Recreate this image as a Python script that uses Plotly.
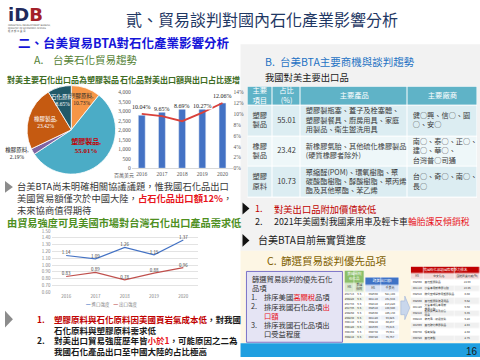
import math
import plotly.graph_objects as go

W, H = 480, 360
CJK = "Noto Sans CJK TC"
SERIF = "Liberation Serif, Noto Sans CJK TC"


def px(x):
    return x / W


def py(y):
    return 1 - y / H


# ---------------- data ----------------
pie_labels = ["塑膠原料", "塑膠製品", "橡膠原料", "橡膠製品", "石化原料"]
pie_values = [10.73, 55.01, 2.19, 23.42, 8.65]

years = [2016, 2017, 2018, 2019, 2020]
export_value = [2800, 3130, 3170, 3260, 3440]          # 百萬美元
export_share = [10.04, 9.65, 8.69, 10.27, 12.06]       # %

intensity_years = ["2016", "2017", "2018", "2019", "2020"]
import_intensity = [1.14, 1.09, 1.26, 1.15, 1.37]
export_intensity = [0.83, 0.89, 0.78, 0.88, 0.96]
intensity_names = ["進口強度", "出口強度"]

tb_header = ["主要<br>項目", "占比<br>(%)", "主要產品", "主要廠商"]
tb_items = ["塑膠<br>製品", "橡膠<br>製品", "塑膠<br>原料"]
tb_shares = ["55.01", "23.42", "10.73"]
tb_products = [
    "塑膠製瓶塞、蓋子及栓塞體、<br>塑膠製餐具、廚房用具、家庭<br>用製品、衛生盥洗用具",
    "新橡膠氣胎、其他硫化橡膠製品<br>(硬質橡膠者除外)",
    "聚縮醛(POM)、環氧樹脂、聚<br>碳酸酯樹脂、醇酸樹脂、聚丙烯<br>酯及其他聚酯、苯乙烯",
]
tb_firms = [
    "健○興、信○、園<br>○、安○",
    "南○、泰○、正○、<br>建○、華○、<br>台灣普○司通",
    "台○、奇○、南○、<br>長○",
]

c1_header = ["美國關稅<br>石化品", "HS", "美國<br>關稅"]
c1_hs = ["291713", "290220", "291733", "291736", "290250",
         "290230", "390110", "390120", "390190", "390210"]
c1_tariff = ["6.5", "6.5", "6.5", "6.5", "6.5", "6.5", "6.5", "6.5", "6.5", "6.5"]

c2_header = ["對美出口額", "HS", "千美元"]
c2_hs = ["392690", "401110", "392410", "392610", "392590",
         "401120", "390210", "401699", "390730", "390720"]
c2_value = ["621,104", "161,544", "213,228", "138,508", "105,138",
            "93,025", "80,297", "76,815", "76,681", "75,757"]

c3_header = ["我國石化品項國際競爭力排名", "HS", "中文貨名", "國際同業比較(%)"]
c3_hs = ["392690", "401110", "392610", "392590", "401120",
         "392410", "390210", "401699", "390730", "390720"]
c3_name = ["其他塑膠製品", "小客車用新橡膠氣胎", "辦公室或學校用塑膠製品",
           "其他塑膠製建築用品", "大客車或貨車用新<br>橡膠氣胎", "塑膠製餐具及廚房<br>用具",
           "聚丙烯，初級狀態", "其他硫化橡膠製品", "環氧樹脂", "其他聚醚"]
c3_score = ["14.59", "13.45", "8.80", "6.52", "5.60", "5.35", "5.20", "2.83", "2.80", "2.75"]

# ---------------- figure ----------------
fig = go.Figure()
shapes = []
annots = []
layout = {}


def rect(x0, y0, x1, y1, fill, line=None, lw=0, layer="below"):
    shapes.append(dict(type="rect", xref="paper", yref="paper",
                       x0=px(x0), x1=px(x1), y0=py(y1), y1=py(y0),
                       fillcolor=fill, line=dict(color=line or fill, width=lw), layer=layer))


def tri(x0, y0, x1, y1, fill):
    path = f"M {px(x0)},{py(y0)} L {px(x1)},{py((y0 + y1) / 2)} L {px(x0)},{py(y1)} Z"
    shapes.append(dict(type="path", xref="paper", yref="paper", path=path,
                       fillcolor=fill, line=dict(width=0), layer="above"))


def txt(x, y, s, size, color="#262626", bold=False, anchor="left", family=CJK):
    if bold:
        s = f"<b>{s}</b>"
    annots.append(dict(x=px(x), y=py(y), xref="paper", yref="paper", text=s,
                       showarrow=False, xanchor=anchor, yanchor="middle",
                       font=dict(size=size, color=color, family=family),
                       align="center" if anchor == "center" else "left",
                       borderpad=0, borderwidth=0))


RED = "#e8141c"


def red(s):
    return f"<span style='color:{RED}'>{s}</span>"


# background panels
rect(238, 42, 480, 252, "#f2f2f2")
rect(238, 252, 480, 346, "#fdf6e4")
rect(238, 346, 480, 360, "#1f9fe0")

# ---------------- pie ----------------
pie_box = (22, 84, 112, 174)          # px box of the pie domain
pie_colors = ["#f79646", "#4bacc6", "#8064a2", "#c55a11", "#215968"]
tmpl = "%{label},<br>%{value:.2f}%"
fig.add_trace(go.Pie(
    labels=pie_labels, values=pie_values, sort=False, direction="clockwise", rotation=0,
    domain=dict(x=[px(pie_box[0]), px(pie_box[2])], y=[py(pie_box[3]), py(pie_box[1])]),
    marker=dict(colors=pie_colors, line=dict(color="white", width=0.8)),
    texttemplate=["", "<b>" + tmpl + "</b>", tmpl, tmpl, ""],
    textposition=["inside", "inside", "outside", "inside", "inside"],
    insidetextorientation="horizontal",
    textfont=dict(family=SERIF, size=[5.5, 7, 5.5, 5.5, 5.5],
                  color=["#262626", "#c00000", "#262626", "white", "white"]),
    showlegend=False, hoverinfo="skip"))

# labels of the two narrow slices, placed at each slice's mid-angle
cx, cy = (pie_box[0] + pie_box[2]) / 2, (pie_box[1] + pie_box[3]) / 2
rad = (pie_box[2] - pie_box[0]) / 2
narrow_label = {0: (0.73, "#262626"), 4: (0.69, "white")}
total = sum(pie_values)
start = 0.0
for i, (lab, v) in enumerate(zip(pie_labels, pie_values)):
    ang = (start + v / 2) / total * 2 * math.pi
    start += v
    if i in narrow_label:
        f, col = narrow_label[i]
        txt(cx + f * rad * math.sin(ang), cy - f * rad * math.cos(ang),
            f"{lab},<br>{v:.2f}%", 5.5, col, anchor="center", family=SERIF)

# ---------------- bar + line ----------------
fig.add_trace(go.Bar(x=years, y=export_value, marker_color="#4472c4", width=0.34,
                     xaxis="x", yaxis="y", hoverinfo="skip", showlegend=False))
fig.add_trace(go.Scatter(x=years, y=export_share, mode="lines",
                         line=dict(color="#d9413b", width=1.8),
                         xaxis="x", yaxis="y2", hoverinfo="skip", showlegend=False))
share_shift = [7, 7, 15, 7, 7]
for yr, v, s in zip(years, export_share, share_shift):
    annots.append(dict(x=yr, y=v, xref="x", yref="y2", text=f"{v:.2f}%", showarrow=False,
                       yshift=s, font=dict(size=6, family=SERIF, color="#1a1a1a"),
                       bgcolor="white", borderpad=0))

tick_font = dict(size=5.5, color="#595959", family=SERIF)
layout["xaxis"] = dict(domain=[px(128), px(230)], anchor="y", type="linear",
                       range=[years[0] - 0.5, years[-1] + 0.5], autorange=False,
                       tickmode="array", tickvals=years, ticktext=[str(y) for y in years],
                       tickfont=tick_font, showline=True, linecolor="#d9d9d9", linewidth=0.8,
                       showgrid=False, zeroline=False, ticks="", fixedrange=True)
layout["yaxis"] = dict(domain=[py(168), py(91)], anchor="x", range=[0, 4000], dtick=500,
                       autorange=False,
                       tickformat=",", tickfont=tick_font, showgrid=False, zeroline=False,
                       fixedrange=True)
layout["yaxis2"] = dict(overlaying="y", side="right", anchor="x", range=[0, 14], dtick=2,
                        autorange=False,
                        ticksuffix="%", tickfont=tick_font, showgrid=False, zeroline=False,
                        fixedrange=True)

# ---------------- intensity lines ----------------
for vals, col in zip([import_intensity, export_intensity], ["#4472c4", "#c0504d"]):
    fig.add_trace(go.Scatter(x=intensity_years, y=vals, mode="lines+text",
                             texttemplate="%{y:.2f}", textposition="top center",
                             textfont=dict(size=4.5, color="#404040"),
                             line=dict(color=col, width=1.2), cliponaxis=False,
                             xaxis="x2", yaxis="y3", hoverinfo="skip", showlegend=False))
small_font = dict(size=4.5, color="#7f7f7f")
layout["xaxis2"] = dict(domain=[px(47), px(195)], anchor="y3", type="category",
                        range=[-0.5, 4.5], autorange=False,
                        tickfont=small_font, showgrid=False, showline=False, ticks="",
                        fixedrange=True)
layout["yaxis3"] = dict(domain=[py(294), py(232)], anchor="x2", range=[0.6, 1.5], dtick=0.1,
                        autorange=False,
                        tick0=0, tickformat=".2f", tickfont=small_font, gridcolor="#e3e3e3",
                        gridwidth=0.6, zeroline=False, fixedrange=True)


# ---------------- tables ----------------
def add_table(n, dom_x, dom_y, col_w, row_h, zrows, colors, gap=1.0):
    xe = [0]
    for w in col_w:
        xe.append(xe[-1] + w)
    ye = [0]
    for h in row_h:
        ye.append(ye[-1] + h)
    k = len(colors)
    cs = []
    for i, c in enumerate(colors):
        cs += [[i / k, c], [(i + 1) / k, c]]
    fig.add_trace(go.Heatmap(x=xe, y=ye, z=zrows, zmin=-0.5, zmax=k - 0.5, colorscale=cs,
                             showscale=False, xgap=gap, ygap=gap, hoverinfo="skip",
                             xaxis=f"x{n}", yaxis=f"y{n + 1}"))
    layout[f"xaxis{n}"] = dict(domain=[px(dom_x[0]), px(dom_x[1])], range=[0, xe[-1]],
                               autorange=False,
                               visible=False, anchor=f"y{n + 1}", fixedrange=True)
    layout[f"yaxis{n + 1}"] = dict(domain=[py(dom_y[1]), py(dom_y[0])], range=[ye[-1], 0],
                                   autorange=False,
                                   visible=False, anchor=f"x{n}", fixedrange=True)
    return xe, ye


def cell_text(n, xs, ys, texts, size, colors, pos="middle center"):
    fig.add_trace(go.Scatter(x=xs, y=ys, text=texts, mode="text", textposition=pos,
                             textfont=dict(size=size, color=colors, family=CJK),
                             xaxis=f"x{n}", yaxis=f"y{n + 1}", hoverinfo="skip",
                             showlegend=False, cliponaxis=False))


def mid(e, i):
    return (e[i] + e[i + 1]) / 2


# Table B (main export products)
rect(245, 85, 477, 198, "white")
xe, ye = add_table(3, (245, 477), (85, 198), [25, 29, 108, 70], [19, 31, 31, 31],
                   [[0, 0, 0, 0], [1, 1, 1, 1], [2, 2, 2, 2], [1, 1, 1, 1]],
                   ["#5fb3c7", "#dcedf2", "#eef7f9"])
cell_text(3, [mid(xe, i) for i in range(4)], [mid(ye, 0)] * 4, tb_header, 7.3, "white")
cell_text(3, [mid(xe, 0)] * 3, [mid(ye, r) for r in (1, 2, 3)], tb_items, 7.3, "#3a3a3a")
cell_text(3, [mid(xe, 1)] * 3, [mid(ye, r) for r in (1, 2, 3)], tb_shares, 7.5, "#3a3a3a")
cell_text(3, [xe[2] + 5] * 3, [mid(ye, r) for r in (1, 2, 3)], tb_products, 7.2, "#3a3a3a",
          pos="middle right")
cell_text(3, [xe[3] + 5] * 3, [mid(ye, r) for r in (1, 2, 3)], tb_firms, 7.2, "#3a3a3a",
          pos="middle right")

# Table C1 (US tariff)
rect(343, 272, 363, 342, "white")
data_rows = [2, 3, 2, 3, 2, 3, 2, 3, 2, 3]
xe, ye = add_table(4, (343, 363), (272, 342), [10, 10], [13, 9] + [4.8] * 10,
                   [[0, 0], [1, 1]] + [[r, r] for r in data_rows],
                   ["#8cbf6a", "#d9e8cf", "#ffffff", "#eef3e9"], gap=0.5)
cell_text(4, [xe[-1] / 2], [mid(ye, 0)], [c1_header[0]], 3.6, "white")
cell_text(4, [mid(xe, 0), mid(xe, 1)], [mid(ye, 1)] * 2, c1_header[1:], 3.0, "#333333")
cell_text(4, [mid(xe, 0)] * 10, [mid(ye, r) for r in range(2, 12)], c1_hs, 2.8, "#333333")
cell_text(4, [mid(xe, 1)] * 10, [mid(ye, r) for r in range(2, 12)], c1_tariff, 2.8, "#333333")

# Table C2 (export value)
rect(364, 279, 398, 342, "white")
xe, ye = add_table(5, (364, 398), (279, 342), [16, 18], [8, 7] + [4.8] * 10,
                   [[0, 0], [1, 1]] + [[r, r] for r in data_rows],
                   ["#3f73c6", "#dae3f3", "#ffffff", "#eef2f9"], gap=0.5)
cell_text(5, [xe[-1] / 2], [mid(ye, 0)], [c2_header[0]], 3.8, "white")
cell_text(5, [mid(xe, 0), mid(xe, 1)], [mid(ye, 1)] * 2, c2_header[1:], 3.0, "#333333")
cell_text(5, [mid(xe, 0)] * 10, [mid(ye, r) for r in range(2, 12)], c2_hs, 2.8, "#333333")
cell_text(5, [mid(xe, 1)] * 10, [mid(ye, r) for r in range(2, 12)], c2_value, 2.8, "#333333")

# arrow between tables
arrow = [(400, 303), (404, 303), (404, 298), (409, 310), (404, 322), (404, 317), (400, 317)]
shapes.append(dict(type="path", xref="paper", yref="paper",
                   path="M " + " L ".join(f"{px(a)},{py(b)}" for a, b in arrow) + " Z",
                   fillcolor="#c9d7ec", line=dict(color="#9fb4d8", width=0.6), layer="above"))

# Table C3 (ranking)
rect(410, 268, 480, 344, "white")
xe, ye = add_table(6, (410, 480), (268, 344), [13, 31, 26], [7, 6] + [6.3] * 10,
                   [[0, 0, 0], [1, 1, 1]] + [[r, r, r] for r in data_rows],
                   ["#c00000", "#f2dcdb", "#ffffff", "#f0f0f0"], gap=0.5)
cell_text(6, [xe[-1] / 2], [mid(ye, 0)], [c3_header[0]], 3.4, "white")
cell_text(6, [mid(xe, i) for i in range(3)], [mid(ye, 1)] * 3, c3_header[1:], 2.8, "#333333")
cell_text(6, [mid(xe, 0)] * 10, [mid(ye, r) for r in range(2, 12)], c3_hs, 2.7, "#333333")
cell_text(6, [xe[1] + 1] * 10, [mid(ye, r) for r in range(2, 12)], c3_name, 2.7, "#333333",
          pos="middle right")
cell_text(6, [mid(xe, 2)] * 10, [mid(ye, r) for r in range(2, 12)], c3_score, 2.8, "#333333")

# ---------------- texts ----------------
# logo
txt(3, 12, "<b><span style='color:#1f2a5c'>iD</span><span style='color:#a3202a'>B</span></b>",
    18, family="DejaVu Sans")
txt(3, 26.3, "INDUSTRIAL DEVELOPMENT BUREAU,<br>MINISTRY OF ECONOMIC AFFAIRS<br>經 濟 部 工 業 局",
    2.3, "#555555", family="DejaVu Sans, Noto Sans CJK TC")

txt(122, 16, "貳、貿易談判對國內石化產業影響分析", 16, "#1f3864")
txt(13, 40, "二、台美貿易BTA對石化產業影響分析", 12.5, "#1515d8", bold=True)
txt(29, 57, "A.", 10.5, "#548235")
txt(48, 57, "台美石化貿易趨勢", 10.5, "#548235")
txt(2, 78, "對美主要石化出口品為塑膠製品", 8, "#3d6b22", bold=True)
txt(116, 78, "石化品對美出口額與出口占比逐增", 8, "#3d6b22", bold=True)
txt(110, 175, "百萬美元", 5, "#595959")

tri(0, 181, 8, 193, "#8c8c8c")
txt(12, 198.5, "台美BTA尚未明確相關協議議題，惟我國石化品出口<br>"
               f"美國貿易額僅次於中國大陸，{red('<b>占石化品出口額12%</b>')}，<br>"
               "未來協商值得期待", 9.3, "#3a3a3a")
txt(2, 223.5, "由貿易強度可見美國市場對台灣石化出口產品需求低", 10.2, "#4e8f1f", bold=True)

txt(108, 307, f"<span style='color:#4472c4'>━</span> {intensity_names[0]}    "
              f"<span style='color:#c0504d'>━</span> {intensity_names[1]}",
    4.5, "#7f7f7f", anchor="center")

tri(0, 313, 8, 330, "#8c8c8c")
txt(32, 321.5, "1.", 8.5, "#c00000", bold=True)
txt(50, 327, "<span style='color:#c00000'>塑膠原料與石化原料因美國頁岩氣成本低</span>，對我國<br>"
             "石化原料與塑膠原料需求低", 8.5, "#1a1a1a", bold=True)
txt(32, 342.5, "2.", 8.5, "#1a1a1a", bold=True)
txt(50, 348, f"對美出口貿易強度歷年皆{red('小於1')}，可能原因之二為<br>"
             "我國石化產品出口至中國大陸的占比極高", 8.5, "#1a1a1a", bold=True)

# right side
txt(263, 59, "B.", 10.5, "#1f72c4")
txt(278, 59, "台美BTA主要商機與談判趨勢", 10.5, "#1f72c4")
txt(263, 75, "我國對美主要出口品", 9.3, "#1a1a1a")

tri(240, 203, 247, 215, "#111111")
txt(253, 209, "1.", 9, "#c00000")
txt(272, 209, "對美出口品附加價值較低", 9.3, "#c00000")
txt(253, 222, "2.", 9, "#1a1a1a")
txt(272, 222, f"2021年美國對我國乘用車及輕卡車{red('輪胎課反傾銷稅')}", 8.8, "#1a1a1a")
tri(240, 235, 247, 248, "#111111")
txt(256, 241, "台美BTA目前無實質進度", 10, "#1a1a1a")

txt(265, 262, "C.", 10.5, "#806000")
txt(279, 262, "篩選貿易談判優先品項", 10.5, "#806000")

rect(244, 273, 341, 345, "#e5e4f4", line="#7a72c8", lw=1, layer="above")
BS = 7.3
txt(250, 284.75, "篩選貿易談判的優先石化<br>品項", BS, "#333333")
txt(249, 299, "1.", BS, "#333333")
txt(262, 299, f"排序美國{red('高關稅')}品項", BS, "#333333")
txt(249, 308.5, "2.", BS, "#333333")
txt(262, 313.25, f"排序我國石化品項{red('出')}<br>{red('口額')}", BS, "#333333")
txt(249, 327.5, "3.", BS, "#333333")
txt(262, 332.25, "排序我國石化品項出<br>口受益程度", BS, "#333333")

txt(472, 354, "16", 10, "#1a1a1a", anchor="center", family="Liberation Sans")

layout.update(dict(width=W, height=H, autosize=False, margin=dict(l=0, r=0, t=0, b=0),
                   paper_bgcolor="white", plot_bgcolor="rgba(0,0,0,0)", showlegend=False,
                   hovermode=False, shapes=shapes, annotations=annots,
                   font=dict(family=CJK)))
fig.update_layout(**layout)
fig.write_html("out.html")
